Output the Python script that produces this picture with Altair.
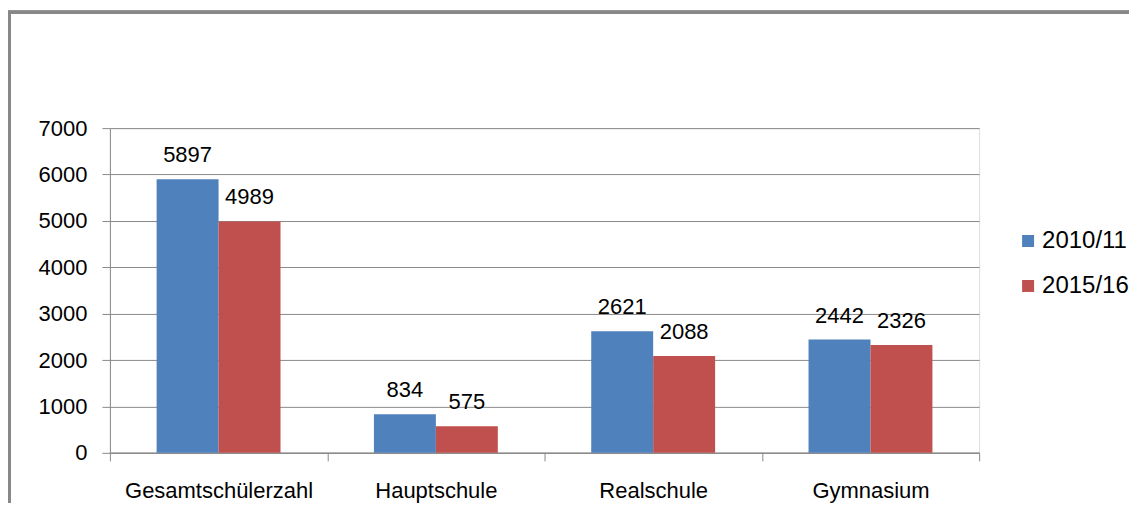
import altair as alt
import pandas as pd

categories = ["Gesamtschülerzahl", "Hauptschule", "Realschule", "Gymnasium"]
years = ["2010/11", "2015/16"]
values_2010 = [5897, 834, 2621, 2442]
values_2015 = [4989, 575, 2088, 2326]
colors = ["#4F81BD", "#C0504D"]

rows = []
for c, a, b in zip(categories, values_2010, values_2015):
    rows.append({"Kategorie": c, "Jahr": years[0], "Wert": a})
    rows.append({"Kategorie": c, "Jahr": years[1], "Wert": b})
df = pd.DataFrame(rows)

W, H = 870, 325
GRAY = "#8a8a8a"
FONT = "Liberation Sans"

x_enc = alt.X(
    "Kategorie:N",
    sort=categories,
    scale=alt.Scale(paddingInner=0, paddingOuter=0),
    axis=alt.Axis(
        title=None, labelAngle=0, tickBand="extent", tickSize=8,
        tickColor=GRAY, domainColor=GRAY, domainWidth=1.5, tickWidth=1,
        labelFont=FONT, labelFontSize=22, labelColor="#000000", labelLimit=0,
        labelBaseline="alphabetic", labelPadding=37, grid=False,
    ),
)
y_enc = alt.Y(
    "Wert:Q",
    scale=alt.Scale(domain=[0, 7000]),
    axis=alt.Axis(
        title=None, values=[0, 1000, 2000, 3000, 4000, 5000, 6000, 7000],
        tickSize=8, tickColor=GRAY, domainColor=GRAY, gridColor=GRAY,
        gridWidth=1, labelFont=FONT, labelFontSize=22, labelColor="#000000",
        labelPadding=15, format="d",
    ),
)
xoff = alt.XOffset(
    "Jahr:N", sort=years,
    scale=alt.Scale(paddingInner=0, paddingOuter=0.754),
)

bars = alt.Chart(df).mark_bar(stroke=None).encode(
    x=x_enc,
    xOffset=xoff,
    y=y_enc,
    color=alt.Color(
        "Jahr:N",
        sort=years,
        scale=alt.Scale(domain=years, range=colors),
        legend=alt.Legend(
            title=None, orient="none", legendX=907, legendY=101,
            symbolType="square", symbolSize=144, symbolStrokeWidth=0,
            labelFont=FONT, labelFontSize=24, labelColor="#000000",
            rowPadding=21, symbolOffset=0, labelOffset=2,
        ),
    ),
)

labels = alt.Chart(df).mark_text(
    dy=-17, baseline="alphabetic", font=FONT, fontSize=22, color="#000000"
).encode(
    x=alt.X("Kategorie:N", sort=categories),
    xOffset=xoff,
    y="Wert:Q",
    text=alt.Text("Wert:Q", format="d"),
)

frame_left = alt.Chart(df).mark_rule(color="#888888", strokeWidth=3).encode(
    x=alt.value(-100.5), y=alt.value(-116), y2=alt.value(500)
)
frame_top = alt.Chart(df).mark_rule(color="#888888", strokeWidth=3).encode(
    x=alt.value(-102), x2=alt.value(1100), y=alt.value(-116)
)

chart = alt.layer(bars, labels, frame_left, frame_top).properties(
    width=W, height=H,
    autosize=alt.AutoSizeParams(type="none"),
    padding={"left": 102, "top": 120, "right": 150, "bottom": 50},
).configure_view(stroke=None).configure(background="#ffffff")

chart.save("out.html", embed_options={"renderer": "svg", "actions": False})
